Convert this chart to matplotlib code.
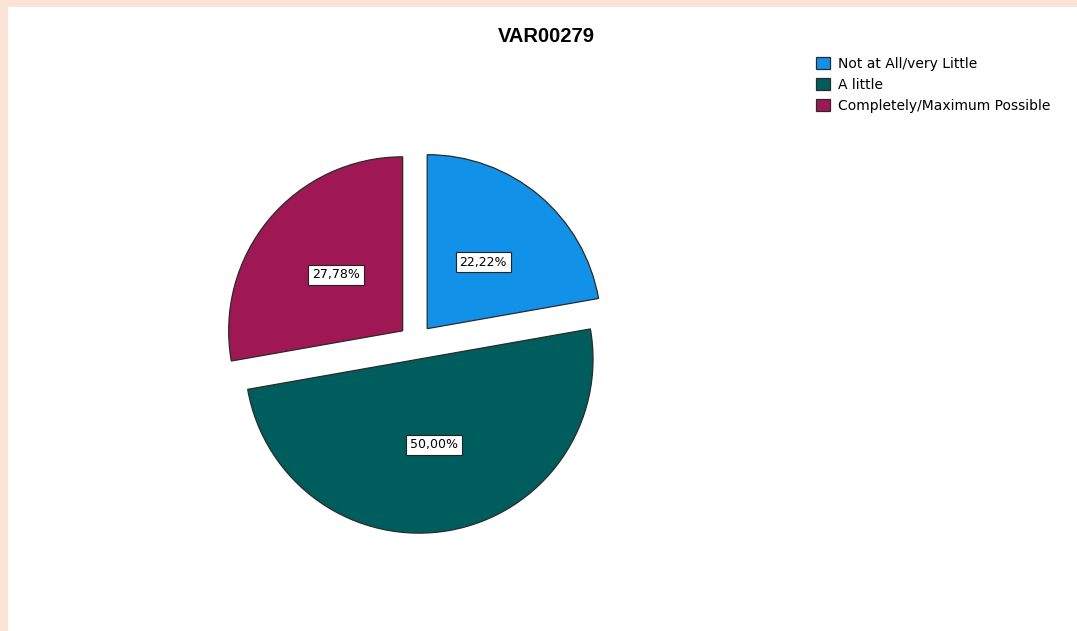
import matplotlib
matplotlib.use("Agg")
import matplotlib.pyplot as plt
from matplotlib.patches import Rectangle

# ---- data ----
title = "VAR00279"
categories = ["Not at All/very Little", "A little", "Completely/Maximum Possible"]
counts = [4, 9, 5]
colors = ["#1192e8", "#005d5d", "#9f1853"]

W, H = 1077, 631
fig = plt.figure(figsize=(W / 100, H / 100), dpi=100)
fig.patch.set_facecolor("#fce3d6")
# white panel inside the peach frame
fig.patches.append(Rectangle((8 / W, 0), 1 - 8 / W, (H - 7) / H,
                             transform=fig.transFigure, facecolor="white",
                             edgecolor="none", zorder=-5))

ax = fig.add_axes([0, 0, 1, 1])
ax.set_facecolor("none")

cx, cy, r = 416, H - 342, 174

def fmt(p):
    return f"{p:.2f}%".replace(".", ",")

wedges, texts, autotexts = ax.pie(
    counts, colors=colors, explode=[0.1 * r] * len(counts), startangle=90,
    counterclock=False, center=(cx, cy), radius=r, autopct=fmt,
    pctdistance=0.5, frame=True,
    wedgeprops=dict(edgecolor="#2a2a2a", linewidth=0.9),
    textprops=dict(fontsize=9, family="DejaVu Sans", color="black"),
)
for t in autotexts:
    t.set_bbox(dict(boxstyle="square,pad=0.3", facecolor="white",
                    edgecolor="#222222", linewidth=0.8))

ax.set_xlim(0, W)
ax.set_ylim(0, H)
ax.set_aspect("equal")
ax.axis("off")

fig.text(546 / W, 1 - 37 / H, title, ha="center", va="center",
         fontsize=14.5, fontweight="bold", family="Liberation Sans")

leg = fig.legend(wedges, categories, loc="upper left",
                 bbox_to_anchor=(816 / W, 1 - 57 / H),
                 frameon=False, prop=dict(family="DejaVu Sans", size=10),
                 handlelength=1.0, handleheight=1.0, handletextpad=0.55,
                 labelspacing=0.5, borderpad=0, borderaxespad=0)

fig.savefig("out.png", dpi=100, facecolor=fig.get_facecolor())
